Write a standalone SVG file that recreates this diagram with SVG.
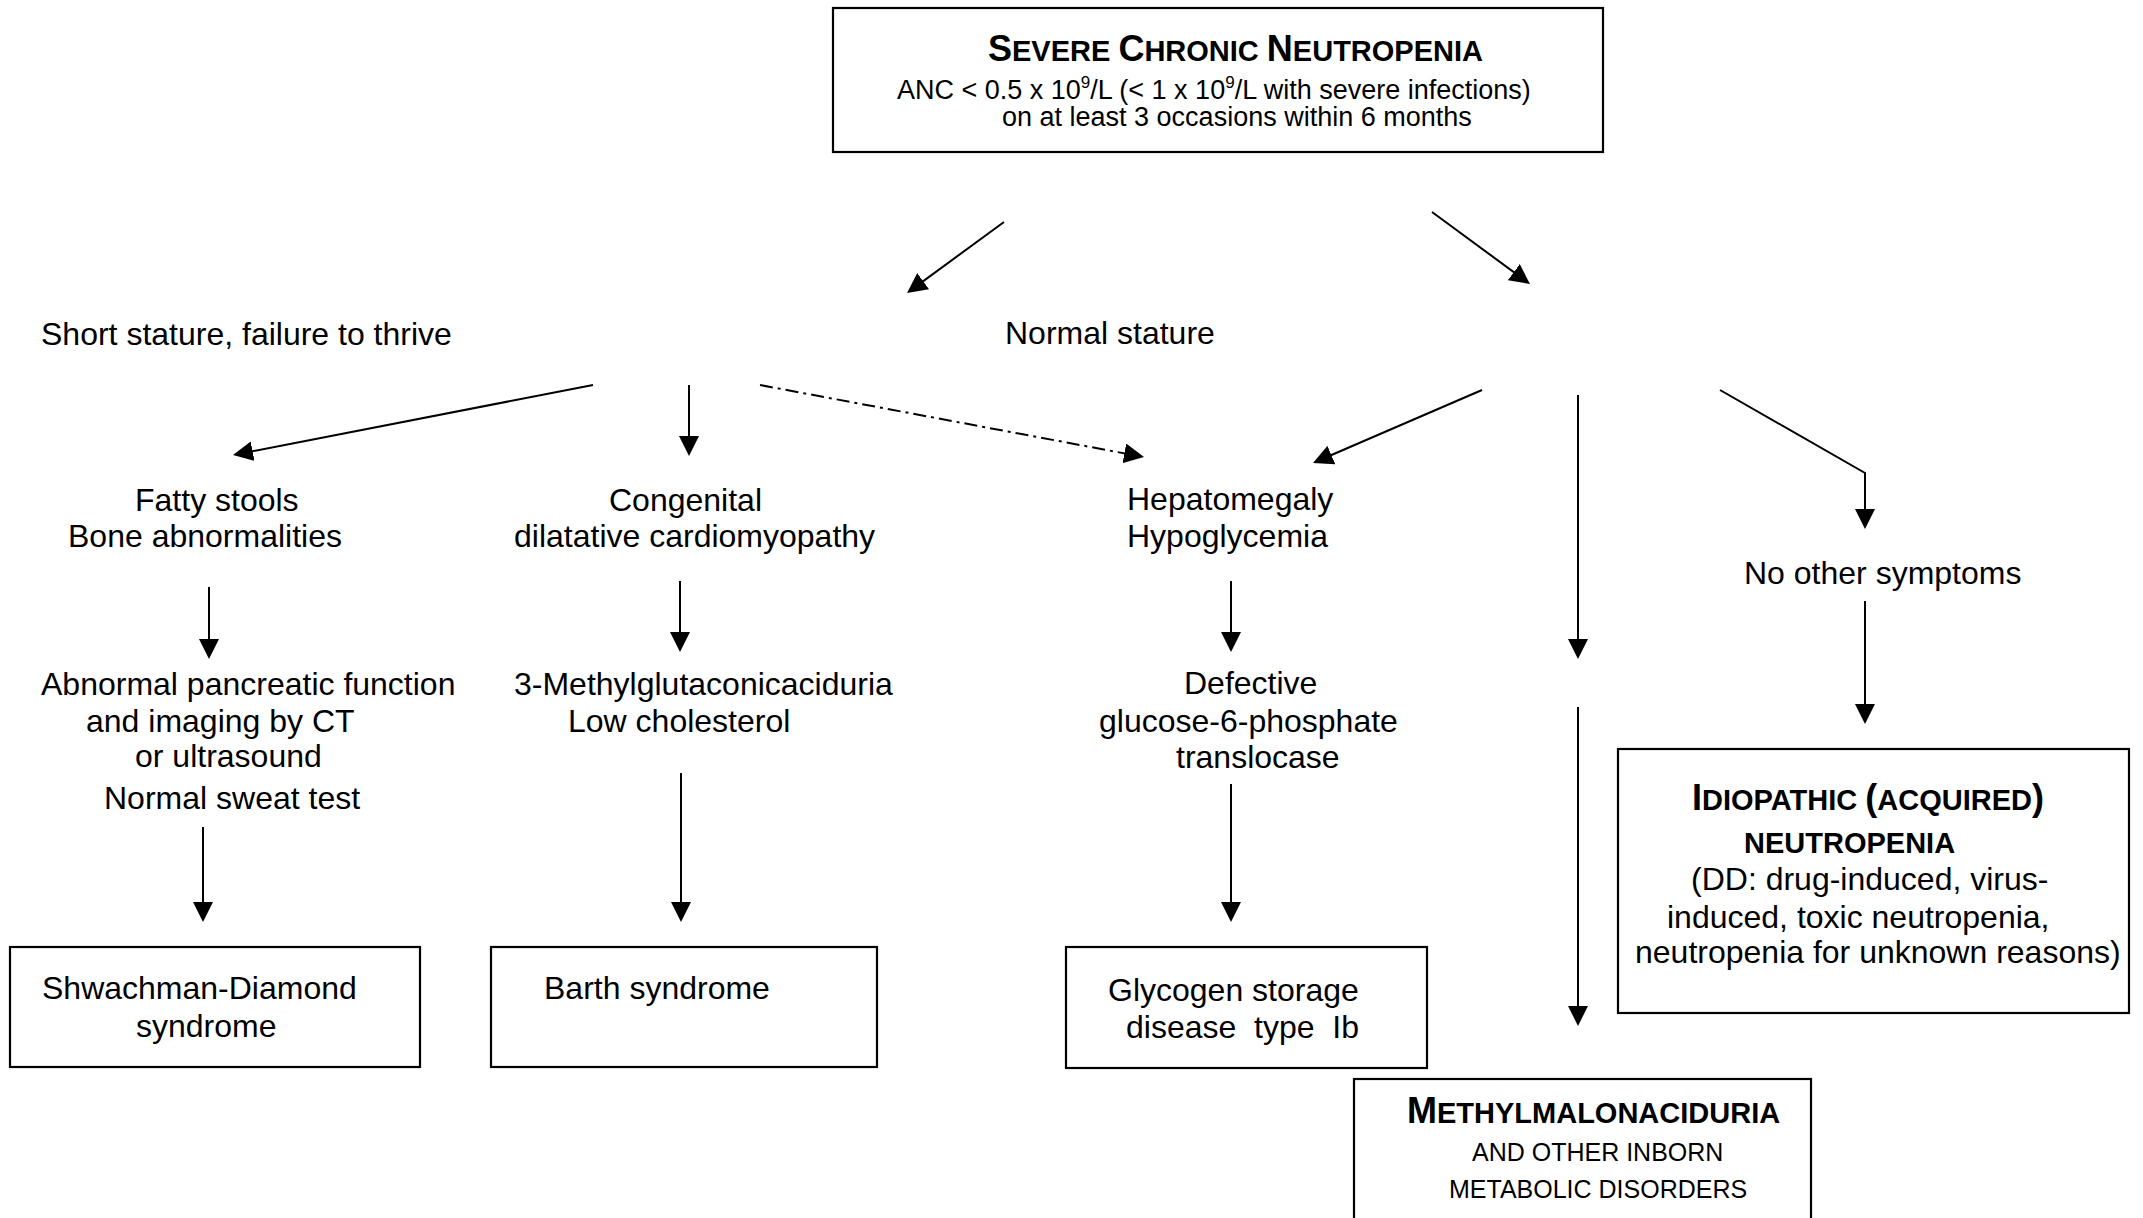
<svg xmlns="http://www.w3.org/2000/svg" width="2143" height="1218" viewBox="0 0 2143 1218">
<defs>
<style>
text { font-family: "Liberation Sans", Arial, sans-serif; font-size: 32px; fill: #000; }
text.s27 { font-size: 27px; }
text.s25 { font-size: 25px; }
text.s29 { font-size: 29px; }
.b { font-weight: bold; }
.big { font-size: 36px; }
.sm { font-size: 29px; }
.sup { font-size: 17px; }
.box { fill: #fff; stroke: #000; stroke-width: 2.2; }
.ln { stroke: #000; stroke-width: 2; fill: none; marker-end: url(#ah); }
.dd { stroke-dasharray: 13 5 3 5; }
</style>
<marker id="ah" markerUnits="userSpaceOnUse" viewBox="0 0 20 20" markerWidth="20" markerHeight="20" refX="10" refY="10" orient="auto">
<path d="M0,0 L20,10 L0,20 z" fill="#000"/>
</marker>
</defs>
<rect width="2143" height="1218" fill="#fff"/>

<g id="connectors">
<line class="ln" x1="1004" y1="222" x2="915.1" y2="287.1"/>
<line class="ln" x1="1432" y1="212" x2="1521.9" y2="278.1"/>
<line class="ln" x1="593" y1="385" x2="242.8" y2="453.1"/>
<line class="ln" x1="689" y1="385" x2="689" y2="446"/>
<line class="ln dd" x1="760" y1="385" x2="1134.2" y2="455.2"/>
<line class="ln" x1="1482" y1="390" x2="1322.2" y2="459"/>
<line class="ln" x1="1578" y1="395" x2="1578" y2="649"/>
<polyline class="ln" points="1720,390 1865,473 1865,519"/>
<line class="ln" x1="209" y1="587" x2="209" y2="649"/>
<line class="ln" x1="680" y1="581" x2="680" y2="642"/>
<line class="ln" x1="1231" y1="581" x2="1231" y2="642"/>
<line class="ln" x1="1865" y1="601" x2="1865" y2="714"/>
<line class="ln" x1="203" y1="827" x2="203" y2="912"/>
<line class="ln" x1="681" y1="773" x2="681" y2="912"/>
<line class="ln" x1="1231" y1="784" x2="1231" y2="912"/>
<line class="ln" x1="1578" y1="707" x2="1578" y2="1016"/>
</g>

<g id="scn">
<rect class="box" x="833" y="8" width="770" height="144"/>
<text class="b" x="988" y="61"><tspan class="big">S</tspan><tspan class="sm">EVERE </tspan><tspan class="big">C</tspan><tspan class="sm">HRONIC </tspan><tspan class="big">N</tspan><tspan class="sm">EUTROPENIA</tspan></text>
<text class="s27" x="897" y="99">ANC &lt; 0.5 x 10<tspan class="sup" dy="-11">9</tspan><tspan dy="11">/L (&lt; 1 x 10</tspan><tspan class="sup" dy="-11">9</tspan><tspan dy="11">/L with severe infections)</tspan></text>
<text class="s27" x="1002" y="126">on at least 3 occasions within 6 months</text>
</g>

<g id="short-stature">
<text x="41" y="345">Short stature, failure to thrive</text>
</g>
<g id="normal-stature">
<text x="1005" y="344">Normal stature</text>
</g>

<g id="fatty-stools">
<text x="135" y="511">Fatty stools</text>
<text x="68" y="547">Bone abnormalities</text>
</g>
<g id="cardiomyopathy">
<text x="609" y="511">Congenital</text>
<text x="514" y="547">dilatative cardiomyopathy</text>
</g>
<g id="hepatomegaly">
<text x="1127" y="510">Hepatomegaly</text>
<text x="1127" y="547">Hypoglycemia</text>
</g>
<g id="no-other">
<text x="1744" y="584">No other symptoms</text>
</g>

<g id="pancreatic">
<text x="41" y="695">Abnormal pancreatic function</text>
<text x="86" y="732">and imaging by CT</text>
<text x="135" y="767">or ultrasound</text>
<text x="104" y="809">Normal sweat test</text>
</g>
<g id="methylglutaconic">
<text x="514" y="695">3-Methylglutaconicaciduria</text>
<text x="568" y="732">Low cholesterol</text>
</g>
<g id="g6pt">
<text x="1184" y="694">Defective</text>
<text x="1099" y="732">glucose-6-phosphate</text>
<text x="1176" y="768">translocase</text>
</g>

<g id="shwachman">
<rect class="box" x="10" y="947" width="410" height="120"/>
<text x="42" y="999">Shwachman-Diamond</text>
<text x="136" y="1037">syndrome</text>
</g>
<g id="barth">
<rect class="box" x="491" y="947" width="386" height="120"/>
<text x="544" y="999">Barth syndrome</text>
</g>
<g id="glycogen">
<rect class="box" x="1066" y="947" width="361" height="121"/>
<text x="1108" y="1001">Glycogen storage</text>
<text x="1126" y="1038" xml:space="preserve">disease  type  Ib</text>
</g>
<g id="idiopathic">
<rect class="box" x="1618" y="749" width="511" height="264"/>
<text class="b" x="1692" y="810"><tspan class="big">I</tspan><tspan class="sm">DIOPATHIC </tspan><tspan class="big">(</tspan><tspan class="sm">ACQUIRED</tspan><tspan class="big">)</tspan></text>
<text class="b s29" x="1744" y="853">NEUTROPENIA</text>
<text x="1691" y="890">(DD: drug-induced, virus-</text>
<text x="1667" y="928">induced, toxic neutropenia,</text>
<text x="1635" y="963">neutropenia for unknown reasons)</text>
</g>
<g id="methylmalonic">
<rect class="box" x="1354" y="1079" width="457" height="170"/>
<text class="b" x="1407" y="1123"><tspan class="big">M</tspan><tspan class="sm">ETHYLMALONACIDURIA</tspan></text>
<text class="s25" x="1472" y="1161">AND OTHER INBORN</text>
<text class="s25" x="1449" y="1198">METABOLIC DISORDERS</text>
</g>
</svg>
